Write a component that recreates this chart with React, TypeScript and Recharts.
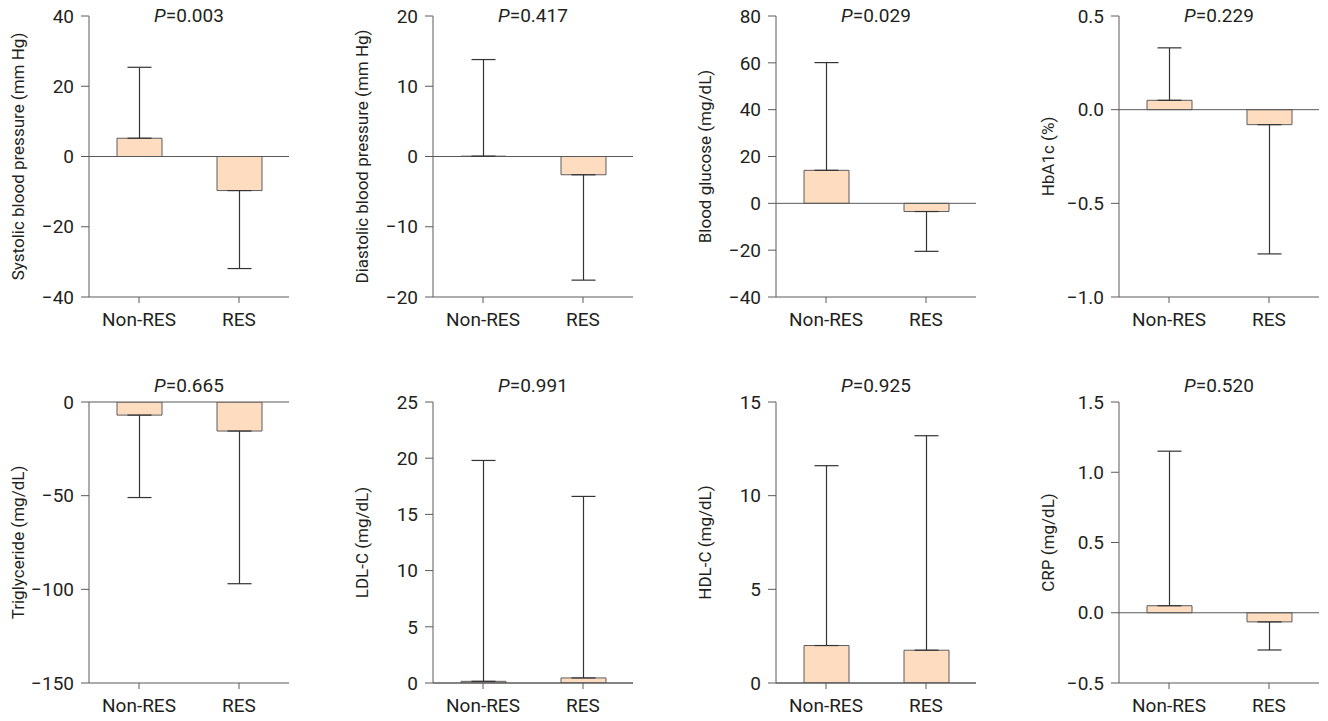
import React from "react";
import {
  BarChart,
  Bar,
  XAxis,
  YAxis,
  ErrorBar,
  ReferenceLine,
} from "recharts";

const categories = ["Non-RES", "RES"];

// mean change and SD (whisker length) per group
const sbpMeans = [5.2, -9.7];
const sbpSds = [20.2, 22.2];
const dbpMeans = [0.05, -2.6];
const dbpSds = [13.75, 15.0];
const glucoseMeans = [14.1, -3.5];
const glucoseSds = [46.0, 17.0];
const hba1cMeans = [0.05, -0.08];
const hba1cSds = [0.28, 0.69];
const tgMeans = [-7, -15.5];
const tgSds = [44, 81.5];
const ldlMeans = [0.15, 0.45];
const ldlSds = [19.65, 16.15];
const hdlMeans = [2.0, 1.75];
const hdlSds = [9.6, 11.45];
const crpMeans = [0.05, -0.065];
const crpSds = [1.1, 0.2];

const sbpTicks = [-40, -20, 0, 20, 40];
const dbpTicks = [-20, -10, 0, 10, 20];
const glucoseTicks = [-40, -20, 0, 20, 40, 60, 80];
const hba1cTicks = [-1.0, -0.5, 0, 0.5];
const tgTicks = [-150, -100, -50, 0];
const ldlTicks = [0, 5, 10, 15, 20, 25];
const hdlTicks = [0, 5, 10, 15];
const crpTicks = [-0.5, 0, 0.5, 1.0, 1.5];

const pValues = ["0.003", "0.417", "0.029", "0.229", "0.665", "0.991", "0.925", "0.520"];

const FONT = "Roboto, 'Noto Sans', sans-serif";
const TEXT = "#231f20";
const AXIS = "#5a5a5a";
const FILL = "#fddcc0";
const EDGE = "#5c5c5c";

const AXIS_X = [89, 433, 776, 1119];
const PLOT_TOP = [16, 402];
const TITLE_Y = [16, 386];
const PLOT_W = 200;
const PLOT_H = 281;
const Y_W = 80;

function fmt(v: number, dec: number) {
  const s = Math.abs(v).toFixed(dec);
  return v < 0 ? "\u2212" + s : s;
}

function YTitle(props: any) {
  const vb = props.viewBox || {};
  const cx = vb.x + vb.width - 71;
  const cy = vb.y + vb.height / 2;
  return (
    <text
      x={cx}
      y={cy}
      transform={`rotate(-90 ${cx} ${cy})`}
      textAnchor="middle"
      dominantBaseline="central"
      fontSize={17}
      fontFamily={FONT}
      fill={TEXT}
    >
      {props.text}
    </text>
  );
}

function Panel({ col, row, label, p, means, sds, ticks, dec }: any) {
  const data = categories.map((name, i) => ({
    name,
    value: means[i],
    err: means[i] >= 0 ? [0, sds[i]] : [sds[i], 0],
  }));
  const left = AXIS_X[col];
  const top = PLOT_TOP[row];
  return (
    <>
      <div
        style={{
          position: "absolute",
          left,
          top: TITLE_Y[row] - 11,
          width: PLOT_W,
          textAlign: "center",
          fontSize: 19,
          lineHeight: "22px",
          fontFamily: FONT,
          color: TEXT,
        }}
      >
        <i>P</i>={p}
      </div>
      <div style={{ position: "absolute", left: left - Y_W, top: top - 10 }}>
        <BarChart
          width={Y_W + PLOT_W + 10}
          height={10 + PLOT_H + 45}
          data={data}
          margin={{ top: 10, right: 10, bottom: 0, left: 0 }}
          barSize={45}
          style={{ overflow: "visible" }}
        >
          <XAxis
            dataKey="name"
            height={45}
            tickSize={6}
            tickMargin={10}
            axisLine={{ stroke: AXIS }}
            tickLine={{ stroke: AXIS }}
            tick={{ fontSize: 19, fontFamily: FONT, fill: TEXT }}
          />
          <YAxis
            type="number"
            width={Y_W}
            domain={[ticks[0], ticks[ticks.length - 1]]}
            ticks={ticks}
            interval={0}
            allowDataOverflow
            tickSize={8}
            tickMargin={7}
            tickFormatter={(v: number) => fmt(v, dec)}
            axisLine={{ stroke: AXIS }}
            tickLine={{ stroke: AXIS }}
            tick={{ fontSize: 19, fontFamily: FONT, fill: TEXT }}
            label={<YTitle text={label} />}
          />
          <ReferenceLine y={0} stroke={AXIS} strokeWidth={1} />
          <Bar dataKey="value" fill={FILL} stroke={EDGE} strokeWidth={1} isAnimationActive={false}>
            <ErrorBar dataKey="err" direction="y" width={12} stroke="#333333" strokeWidth={1.2} />
          </Bar>
        </BarChart>
      </div>
    </>
  );
}

export default function App() {
  return (
    <div
      style={{
        position: "absolute",
        left: 0,
        top: 0,
        width: 1328,
        height: 721,
        background: "#ffffff",
        overflow: "hidden",
      }}
    >
      <Panel col={0} row={0} label="Systolic blood pressure (mm Hg)" p={pValues[0]} means={sbpMeans} sds={sbpSds} ticks={sbpTicks} dec={0} />
      <Panel col={1} row={0} label="Diastolic blood pressure (mm Hg)" p={pValues[1]} means={dbpMeans} sds={dbpSds} ticks={dbpTicks} dec={0} />
      <Panel col={2} row={0} label="Blood glucose (mg/dL)" p={pValues[2]} means={glucoseMeans} sds={glucoseSds} ticks={glucoseTicks} dec={0} />
      <Panel col={3} row={0} label="HbA1c (%)" p={pValues[3]} means={hba1cMeans} sds={hba1cSds} ticks={hba1cTicks} dec={1} />
      <Panel col={0} row={1} label="Triglyceride (mg/dL)" p={pValues[4]} means={tgMeans} sds={tgSds} ticks={tgTicks} dec={0} />
      <Panel col={1} row={1} label="LDL-C (mg/dL)" p={pValues[5]} means={ldlMeans} sds={ldlSds} ticks={ldlTicks} dec={0} />
      <Panel col={2} row={1} label="HDL-C (mg/dL)" p={pValues[6]} means={hdlMeans} sds={hdlSds} ticks={hdlTicks} dec={0} />
      <Panel col={3} row={1} label="CRP (mg/dL)" p={pValues[7]} means={crpMeans} sds={crpSds} ticks={crpTicks} dec={1} />
    </div>
  );
}
